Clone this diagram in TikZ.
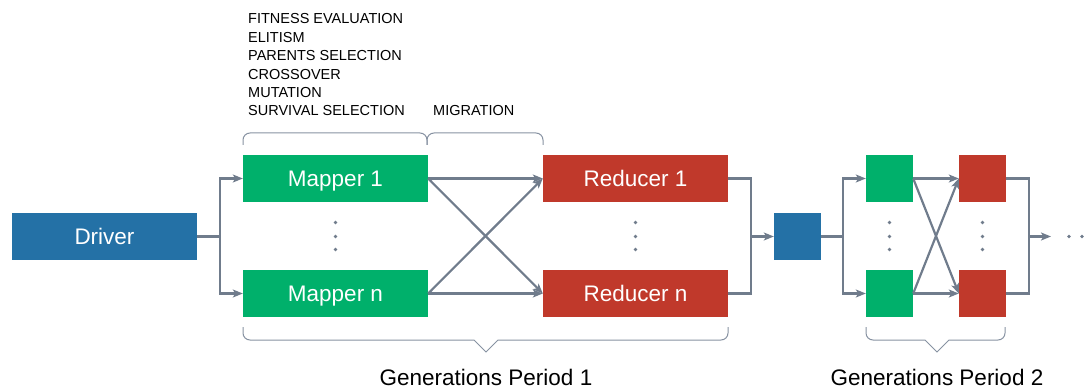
\documentclass[tikz,border=0pt]{standalone}
\usepackage{fontspec}
\setmainfont{Liberation Sans}
\usetikzlibrary{arrows.meta}
\definecolor{mgreen}{RGB}{0,176,107}
\definecolor{rred}{RGB}{192,57,43}
\definecolor{dblue}{RGB}{36,113,166}
\definecolor{conn}{RGB}{112,124,140}
\definecolor{brc}{RGB}{135,146,162}
\begin{document}
\begin{tikzpicture}[x=1pt,y=-1pt,
  box/.style={minimum width=185pt,minimum height=47pt,inner sep=0pt,text=white,font=\fontsize{22.5}{27}\selectfont,text height=16.1pt,text depth=0pt},
  sq/.style={minimum width=47pt,minimum height=47pt,inner sep=0pt},
  plain/.style={draw=conn,line width=2.2pt},
  link/.style={draw=conn,line width=2.2pt,-{Stealth[length=10pt,width=8pt,inset=2.5pt]}},
  brace/.style={draw=brc,line width=1pt},
  dot/.style={fill=conn},
  small/.style={font=\fontsize{14.5}{18.4}\selectfont,inner sep=0pt},
  big/.style={font=\fontsize{22.5}{27}\selectfont,inner sep=0pt}]
\useasboundingbox (0,0) rectangle (1089,390);

% boxes
\node[box,fill=dblue] (drv) at (104.5,236.5) {Driver};
\node[box,fill=mgreen] (m1) at (335.5,178.5) {Mapper 1};
\node[box,fill=mgreen] (mn) at (335.5,293.5) {Mapper n};
\node[box,fill=rred] (r1) at (635.5,178.5) {Reducer 1};
\node[box,fill=rred] (rn) at (635.5,293.5) {Reducer n};
\node[sq,fill=dblue] (d2) at (797.5,236.5) {};
\node[sq,fill=mgreen] (g1) at (889.5,178.5) {};
\node[sq,fill=mgreen] (gn) at (889.5,293.5) {};
\node[sq,fill=rred] (s1) at (982.5,178.5) {};
\node[sq,fill=rred] (sn) at (982.5,293.5) {};

% junctions
\coordinate (j1) at (220,236.5);
\coordinate (j2) at (751,236.5);
\coordinate (j3) at (843,236.5);
\coordinate (j4) at (1029,236.5);
\coordinate (e) at (1051,236.5);

% connectors period 1
\draw[plain] (drv.east) -- (j1);
\draw[link] (j1) |- (m1.west);
\draw[link] (j1) |- (mn.west);
\draw[link] (m1.east) -- (r1.west);
\draw[link] (m1.east) -- (rn.west);
\draw[link] (mn.east) -- (r1.west);
\draw[link] (mn.east) -- (rn.west);
\draw[plain] (r1.east) -| (j2) |- (rn.east);
\draw[link] (j2) -- (d2.west);

% connectors period 2
\draw[plain] (d2.east) -- (j3);
\draw[link] (j3) |- (g1.west);
\draw[link] (j3) |- (gn.west);
\draw[link] (g1.east) -- (s1.west);
\draw[link] (g1.east) -- (sn.west);
\draw[link] (gn.east) -- (s1.west);
\draw[link] (gn.east) -- (sn.west);
\draw[plain] (s1.east) -| (j4) |- (sn.east);
\draw[link] (j4) -- (e);

% dots
\foreach \x in {335.5,635.5,889.5,982.5}{
  \foreach \y in {222.5,236.5,249.5}{
    \fill[dot] (\x,\y) circle (1.8pt);
  }
}
\fill[dot] (1069,236.5) circle (1.8pt);
\fill[dot] (1082,236.5) circle (1.8pt);

% top braces
\draw[brace,rounded corners=7pt] (243,145) -- (243,133) -- (427,133) -- (427,145);
\draw[brace,rounded corners=7pt] (427,145) -- (427,133) -- (543,133) -- (543,145);

% bottom braces
\draw[brace] (243,327) [rounded corners=7pt] -- (243,340) -- (400,340) [sharp corners] -- (474,340) -- (486,352) -- (498,340) -- (600,340) [rounded corners=7pt] -- (728,340) -- (728,327);
\draw[brace] (866,327) [rounded corners=7pt] -- (866,340) -- (900,340) [sharp corners] -- (925,340) -- (937,352) -- (949,340) -- (975,340) [rounded corners=7pt] -- (1005,340) -- (1005,327);

% labels
\node[small,anchor=north west,align=left] (ops) at (248,13.6) {FITNESS EVALUATION\\ELITISM\\PARENTS SELECTION\\CROSSOVER\\MUTATION\\SURVIVAL SELECTION};
\node[small,anchor=base west] (mig) at (433,116) {MIGRATION};
\node[big,anchor=base] (gp1) at (486,385.5) {Generations Period 1};
\node[big,anchor=base] (gp2) at (937,385.5) {Generations Period 2};
\end{tikzpicture}
\end{document}
